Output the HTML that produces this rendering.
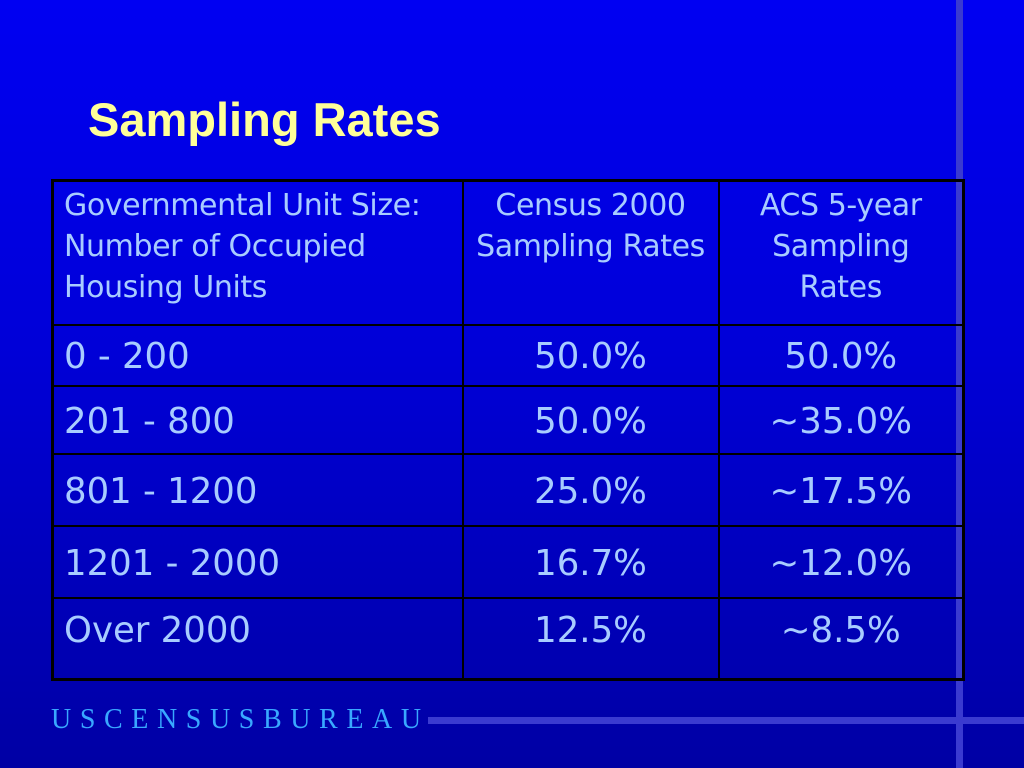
<!DOCTYPE html>
<html><head><meta charset="utf-8"><style>
html,body{margin:0;padding:0}
body{width:1024px;height:768px;position:relative;overflow:hidden;background:linear-gradient(#0000f2 0%,#0000d8 45%,#0000a4 100%);font-family:"DejaVu Sans","Liberation Sans",sans-serif;}
.vline{position:absolute;left:956px;top:0;width:7px;height:768px;background:#3a3ad0}
.hline{position:absolute;left:428px;top:717px;width:596px;height:7px;background:#3a3ad0}
.title{position:absolute;left:88px;top:92px;font:bold 47px "Liberation Sans",sans-serif;color:#ffff99}
table{position:absolute;left:51px;top:179px;width:914px;border-collapse:collapse;border:3px solid #000;color:#a8ccff;table-layout:fixed}
td{border:2px solid #000;padding:0 10px;vertical-align:top;white-space:nowrap}
td.c{text-align:center}
tr.h td{font-size:30px;line-height:41px;height:139px;padding-top:3px;letter-spacing:-0.4px}
tr.r td{font-size:35.5px;vertical-align:middle;padding-top:2px}
.footer{position:absolute;left:51px;top:706px;font:28px/1 "Liberation Serif",serif;color:#39a8ff;letter-spacing:8.6px}
</style></head><body>
<div class="vline"></div>
<div class="hline"></div>
<div class="title">Sampling Rates</div>
<table>
<colgroup><col style="width:410px"><col style="width:256px"><col></colgroup>
<tr class="h"><td>Governmental Unit Size:<br>Number of Occupied<br>Housing Units</td><td class="c">Census 2000<br>Sampling Rates</td><td class="c">ACS 5-year<br>Sampling<br>Rates</td></tr>
<tr class="r" style="height:61px"><td>0 - 200</td><td class="c">50.0%</td><td class="c">50.0%</td></tr>
<tr class="r" style="height:68px"><td>201 - 800</td><td class="c">50.0%</td><td class="c">~35.0%</td></tr>
<tr class="r" style="height:72px"><td>801 - 1200</td><td class="c">25.0%</td><td class="c">~17.5%</td></tr>
<tr class="r" style="height:72px"><td>1201 - 2000</td><td class="c">16.7%</td><td class="c">~12.0%</td></tr>
<tr class="r" style="height:81px"><td style="vertical-align:top;padding-top:11px">Over 2000</td><td class="c" style="vertical-align:top;padding-top:11px">12.5%</td><td class="c" style="vertical-align:top;padding-top:11px">~8.5%</td></tr>
</table>
<div class="footer">USCENSUSBUREAU</div>
</body></html>
